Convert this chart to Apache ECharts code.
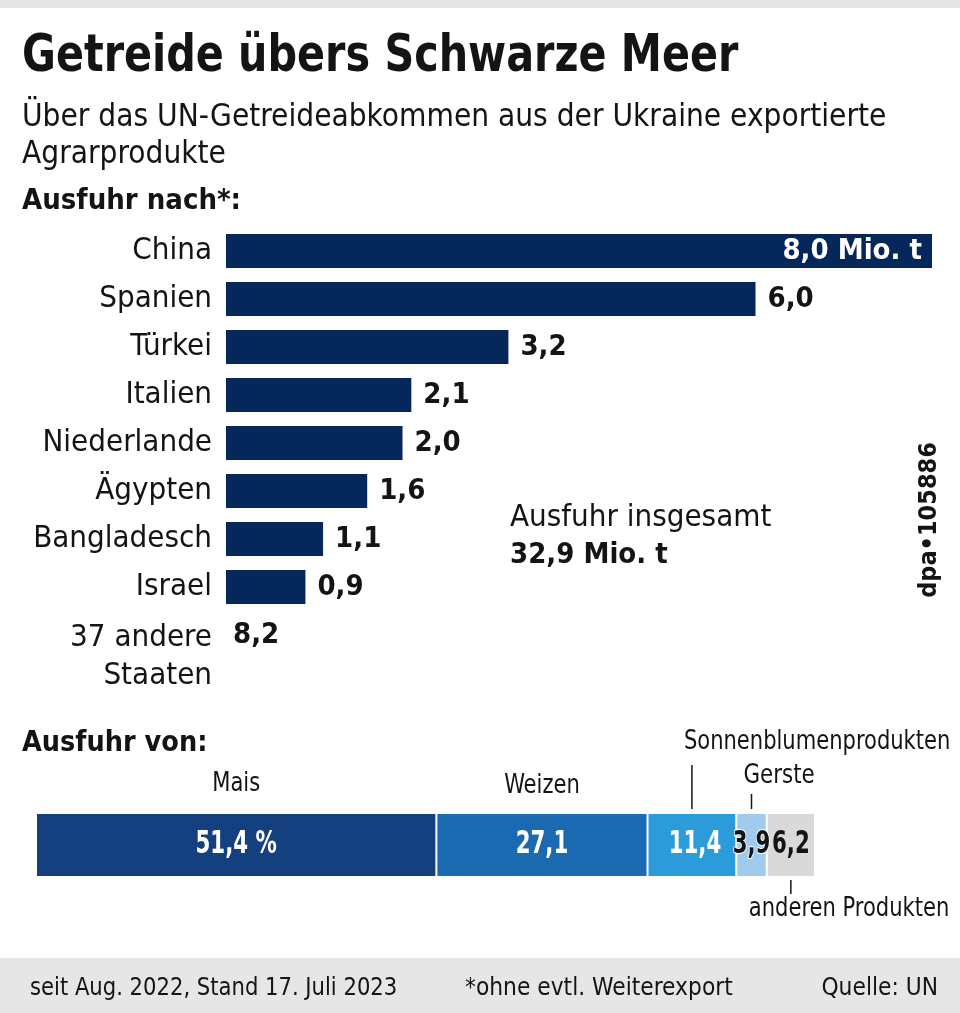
<!DOCTYPE html>
<html><head><meta charset="utf-8">
<script src="https://cdn.jsdelivr.net/npm/echarts@6/dist/echarts.min.js"></script>
<style>html,body{margin:0;padding:0;background:#fff}#c{width:960px;height:1013px}</style>
</head><body><div id="c"></div>
<script>
// ---- data ----
const countries = ['China','Spanien','Türkei','Italien','Niederlande','Ägypten','Bangladesch','Israel','37 andere Staaten'];
const exportsMio = [8.0, 6.0, 3.2, 2.1, 2.0, 1.6, 1.1, 0.9, 8.2];
const barDrawn = [true, true, true, true, true, true, true, true, false];
const totalExport = 32.9;
const products = ['Mais','Weizen','Sonnenblumenprodukten','Gerste','anderen Produkten'];
const productShares = [51.4, 27.1, 11.4, 3.9, 6.2];

// ---- style ----
const FONT = '"Liberation Sans Narrow","DejaVu Sans Condensed","Roboto Condensed",Roboto,sans-serif';
const INK = '#141414';
const BAR = '#06275a';
const PRODUCT_COLORS = ['#15407f','#1a69b1','#2b9bd9','#9fcbee','#d9d9d9'];
const PRODUCT_LABEL_COLORS = ['#fff','#fff','#fff',INK,INK];
const fmt = v => v.toFixed(1).replace('.', ',');

const chart = echarts.init(document.getElementById('c'), null, {renderer:'canvas'});

const countrySeries = {
  type:'bar', xAxisIndex:0, yAxisIndex:0, barWidth:34,
  itemStyle:{color:BAR},
  label:{show:true, position:'right', distance:12, color:INK, fontFamily:FONT, fontWeight:'bold', fontSize:29,
         formatter:p => fmt(exportsMio[p.dataIndex])},
  data: exportsMio.map((v,i) => {
    if (!barDrawn[i]) return {value:0, itemStyle:{color:'rgba(0,0,0,0)'}, label:{distance:7}};
    if (i === 0) return {value:v, label:{position:'insideRight', distance:10, color:'#fff', formatter:fmt(v)+' Mio. t'}};
    return {value:v};
  })
};

const productSeries = products.map((name,i) => ({
  type:'bar', name, stack:'prod', xAxisIndex:1, yAxisIndex:1, barWidth:64,
  itemStyle:{color:PRODUCT_COLORS[i], borderColor:'#fff', borderWidth:1},
  label:{show:false},
  data:[productShares[i]]
}));

chart.setOption({
  animation:false,
  backgroundColor:'#fff',
  textStyle:{fontFamily:FONT},
  grid:[
    {left:226, top:227, width:706, height:432, containLabel:false},
    {left:36, top:813, width:779, height:64, containLabel:false}
  ],
  xAxis:[
    {gridIndex:0, type:'value', min:0, max:8, show:false},
    {gridIndex:1, type:'value', min:0, max:100, show:false}
  ],
  yAxis:[
    {gridIndex:0, type:'category', inverse:true, data:countries,
     axisLine:{show:false}, axisTick:{show:false}, splitLine:{show:false},
     axisLabel:{margin:14, color:INK, fontFamily:FONT, fontSize:31, interval:0, hideOverlap:false,
       showMinLabel:true, showMaxLabel:true,
       formatter:(v) => v.split(' ').length > 2
         ? '{e| }\n{t|' + v.split(' ').slice(0,2).join(' ') + '}\n{t|' + v.split(' ').slice(2).join(' ') + '}'
         : v,
       rich:{e:{lineHeight:44, fontSize:10}, t:{lineHeight:38, fontSize:31, fontFamily:FONT, color:INK}}}},
    {gridIndex:1, type:'category', data:['Ausfuhr von'], show:false}
  ],
  series:[countrySeries, ...productSeries]
});

// annotations placed through the chart's own coordinate conversion
function px(grid, x, y){ return chart.convertToPixel({gridIndex:grid}, [x, y]); }
let cum = 0;
const segCenters = productShares.map(v => { const c = cum + v/2; cum += v; return px(1, c, 0)[0]; });
const barMid = px(1, 0, 0)[1];
const barTop = barMid - 32, barBottom = barMid + 32;

const txt = (id, x, y, text, size, weight, extra, sx) => ({
  type:'text', id, x, y, scaleX: sx || 1,
  style:Object.assign({text, fill:INK, font:(weight||'normal')+' '+size+'px '+FONT, textVerticalAlign:'middle'}, extra||{})
});
const line = (id, x, y1, y2) => ({type:'line', id, shape:{x1:x, y1, x2:x, y2}, style:{stroke:INK, lineWidth:1.5}});

// condensed share labels inside the stacked bar
const shareLabels = productShares.map((v,i) => ({
  type:'text', id:'share'+i, x:segCenters[i] + (i===2 ? 3 : 0), y:barMid, scaleX:0.74, z:10,
  style:Object.assign({text: fmt(v) + (i===0 ? ' %' : ''), fill:PRODUCT_LABEL_COLORS[i],
         font:'bold 32px '+FONT, textAlign:'center', textVerticalAlign:'middle'},
         i === 3 ? {stroke:'#fff', lineWidth:2} : {})
}));

const graphics = [
  {type:'rect', id:'topband', shape:{x:0, y:0, width:960, height:8}, style:{fill:'#e6e6e6'}},
  txt('title', 22, 58, 'Getreide übers Schwarze Meer', 51, 'bold', null, 0.9),
  txt('sub1', 22, 118, 'Über das UN-Getreideabkommen aus der Ukraine exportierte', 31.3),
  txt('sub2', 22, 155, 'Agrarprodukte', 31.3),
  txt('nach', 22, 201, 'Ausfuhr nach*:', 29, 'bold'),
  txt('tot1', 510, 518, 'Ausfuhr insgesamt', 31),
  txt('tot2', 510, 555, fmt(totalExport) + ' Mio. t', 29, 'bold'),
  {type:'text', id:'dpa', x:929, y:520, rotation:Math.PI/2,
   style:{text:'dpa•105886', fill:INK, font:'bold 25px '+FONT, textAlign:'center', textVerticalAlign:'middle'}},
  txt('von', 22, 744, 'Ausfuhr von:', 28.5, 'bold'),
  txt('p0', segCenters[0], 784, products[0], 26, 'normal', {textAlign:'center'}, 0.9),
  txt('p1', segCenters[1], 786, products[1], 26, 'normal', {textAlign:'center'}, 0.9),
  line('l2', segCenters[2], 765, barTop - 4),
  txt('p2', segCenters[2] - 8, 742, products[2], 26, 'normal', {textAlign:'left'}, 0.9),
  line('l3', segCenters[3], 794, barTop - 4),
  txt('p3', segCenters[3] - 8, 776, products[3], 27, 'normal', {textAlign:'left'}, 0.88),
  line('l4', segCenters[4], barBottom + 3, 894),
  txt('p4', segCenters[4] - 42, 909, products[4], 26, 'normal', {textAlign:'left'}, 0.9),
  ...shareLabels,
  {type:'rect', id:'footband', shape:{x:0, y:958, width:960, height:55}, style:{fill:'#e6e6e6'}},
  txt('f1', 30, 988, 'seit Aug. 2022, Stand 17. Juli 2023', 25, 'normal', null, 0.94),
  txt('f2', 465, 988, '*ohne evtl. Weiterexport', 25, 'normal', null, 0.97),
  txt('f3', 938, 988, 'Quelle: UN', 25, 'normal', {textAlign:'right'}, 0.97)
];
chart.setOption({graphic:graphics});
</script>
</body></html>
